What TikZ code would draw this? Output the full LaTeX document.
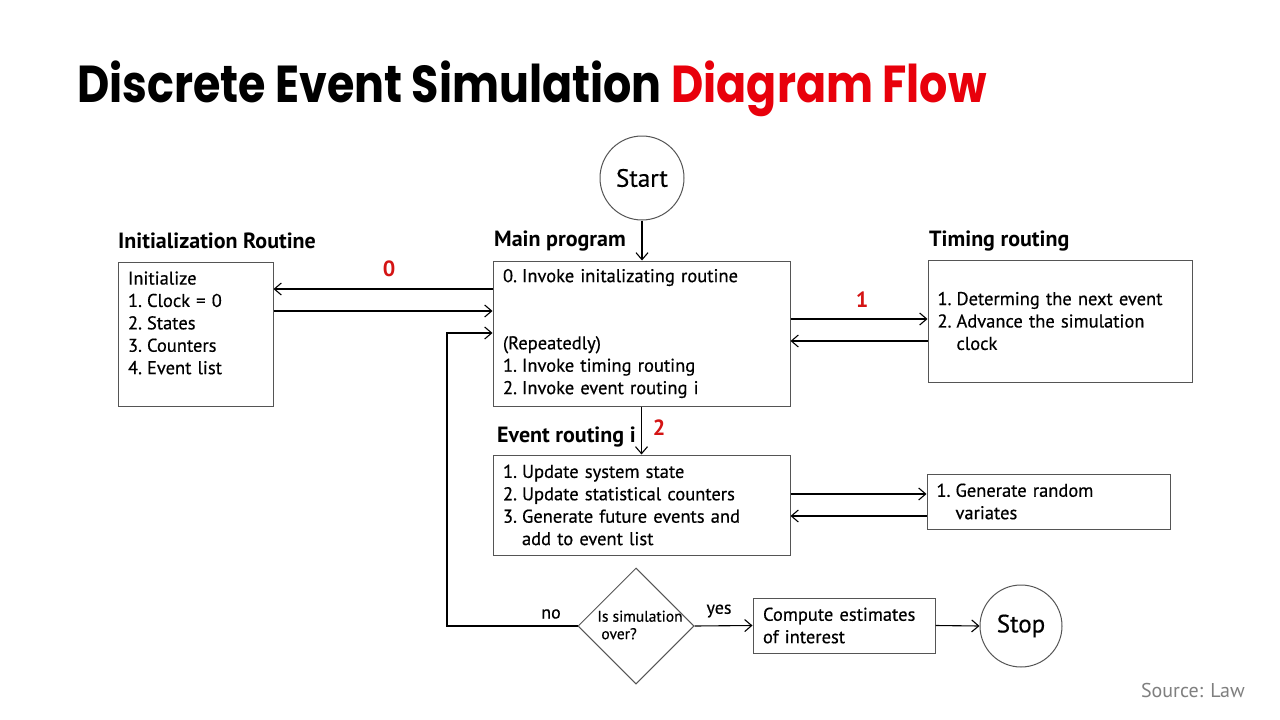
\documentclass[tikz,border=0pt]{standalone}
\usepackage{fontspec}
\setmainfont{PT Sans}
\newfontfamily\bodyf{PT Sans}[FakeBold=0.5]
\newfontfamily\titlefont{Poppins}
\usetikzlibrary{arrows.meta,shapes.geometric,calc}
\definecolor{titlered}{HTML}{E8000B}
\definecolor{numred}{HTML}{D41414}
\definecolor{boxgray}{HTML}{555555}
\definecolor{srcgray}{HTML}{7F7F7F}
\newcommand\li[2]{\makebox[19pt][l]{#1}#2}
\begin{document}
\begin{tikzpicture}[x=1pt,y=-1pt,
  body/.style={font=\bodyf\fontsize{18.5}{22.4}\selectfont},
  box/.style={draw=boxgray, line width=1pt, body, align=left, inner xsep=10pt, inner ysep=0pt},
  circ/.style={draw=boxgray, line width=1pt, circle, inner sep=0pt, font=\bodyf\fontsize{25}{28}\selectfont},
  head/.style={anchor=west, inner sep=0pt, font=\fontsize{22}{26}\selectfont\bfseries},
  num/.style={inner sep=0pt, text=numred, font=\fontsize{22}{26}\selectfont\bfseries},
  small/.style={inner sep=0pt, font=\bodyf\fontsize{18}{21}\selectfont},
  arr/.style={draw=black, line width=1.1pt, -{Straight Barb[length=7pt,width=12pt,line width=1.1pt]}},
]
\useasboundingbox[fill=white] (0,0) rectangle (1280,720);

% title
\node[anchor=base west, inner sep=0pt, font=\titlefont\bfseries\fontsize{52}{58}\selectfont] (title) at (77,102)
  {\scalebox{0.854}[1]{Discrete Event Simulation \textcolor{titlered}{Diagram Flow}}};

% circles
\node[circ, minimum size=84pt] (start) at (642,178) {Start};
\node[circ, minimum size=82pt] (stop) at (1021,626) {Stop};

% boxes
\node[box, text width=135pt, minimum height=144pt] (init) at (195.5,334)
  {Initialize\\ \li{1.}{Clock = 0}\\ \li{2.}{States}\\ \li{3.}{Counters}\\ \li{4.}{Event list}\\ \mbox{}};
\node[box, text width=277pt, minimum height=145pt] (main) at (641.5,333.5)
  {\li{0.}{Invoke initalizating routine}\\ \mbox{}\\ \mbox{}\\ (Repeatedly)\\ \li{1.}{Invoke timing routing}\\ \li{2.}{Invoke event routing i}};
\node[box, text width=245pt, inner xsep=9.5pt, minimum height=122pt] (timing) at (1060,321)
  {\li{1.}{Determing the next event}\\ \li{2.}{Advance the simulation}\\ \li{}{clock}};
\node[box, text width=277pt, minimum height=100pt] (event) at (641.5,505)
  {\li{1.}{Update system state}\\ \li{2.}{Update statistical counters}\\ \li{3.}{Generate future events and}\\ \li{}{add to event list}};
\node[box, text width=224pt, inner xsep=9.5pt, minimum height=55pt] (rand) at (1048.5,501.5)
  {\li{1.}{Generate random}\\ \li{}{variates}};
\node[box, text width=162pt, minimum height=55pt] (comp) at (844,625.5)
  {Compute estimates\\ of interest};
\node[draw=boxgray, line width=1pt, diamond, aspect=1, minimum width=116pt, minimum height=116pt, inner sep=0pt] (dec) at (636,626) {};
\node[small, font=\bodyf\fontsize{15.5}{17.5}\selectfont, align=left] (dectext) at (640,625) {Is simulation\\ \hspace{4pt}over?};

% headings
\node[head] (hinit) at (118,241) {Initialization Routine};
\node[head] (hmain) at (494,241) {Main program};
\node[head] (htiming) at (929,241) {Timing routing};
\node[head] (hevent) at (497,437) {Event routing i};

% connectors
\draw[arr] (start) -- (start |- main.north);
\draw[arr] (main.west |- 0,289) -- (init.east |- 0,289);
\draw[arr] (init.east |- 0,311) -- (main.west |- 0,311);
\coordinate (loopc) at (dec.west -| 447,0);
\draw[arr] (dec.west) -- (loopc) |- (main.west |- 0,333);
\draw[arr] (main.east |- 0,319) -- (timing.west |- 0,319);
\draw[arr] (timing.west |- 0,341) -- (main.east |- 0,341);
\draw[arr] (main.south) -- (event.north);
\draw[arr] (event.east |- 0,494) -- (rand.west |- 0,494);
\draw[arr] (rand.west |- 0,516) -- (event.east |- 0,516);
\draw[arr] (dec.east) -- (comp.west);
\draw[arr] (comp.east) -- (stop.west);

% labels
\node[num] (n0) at (389,269) {0};
\node[num] (n1) at (862,300) {1};
\node[num] (n2) at (659,428) {2};
\node[small] (no) at (551,614) {no};
\node[small] (yes) at (719,611) {yes};
\node[anchor=east, inner sep=0pt, text=srcgray, font=\fontsize{20}{24}\selectfont] (src) at (1245,690) {Source: Law};
\end{tikzpicture}
\end{document}
